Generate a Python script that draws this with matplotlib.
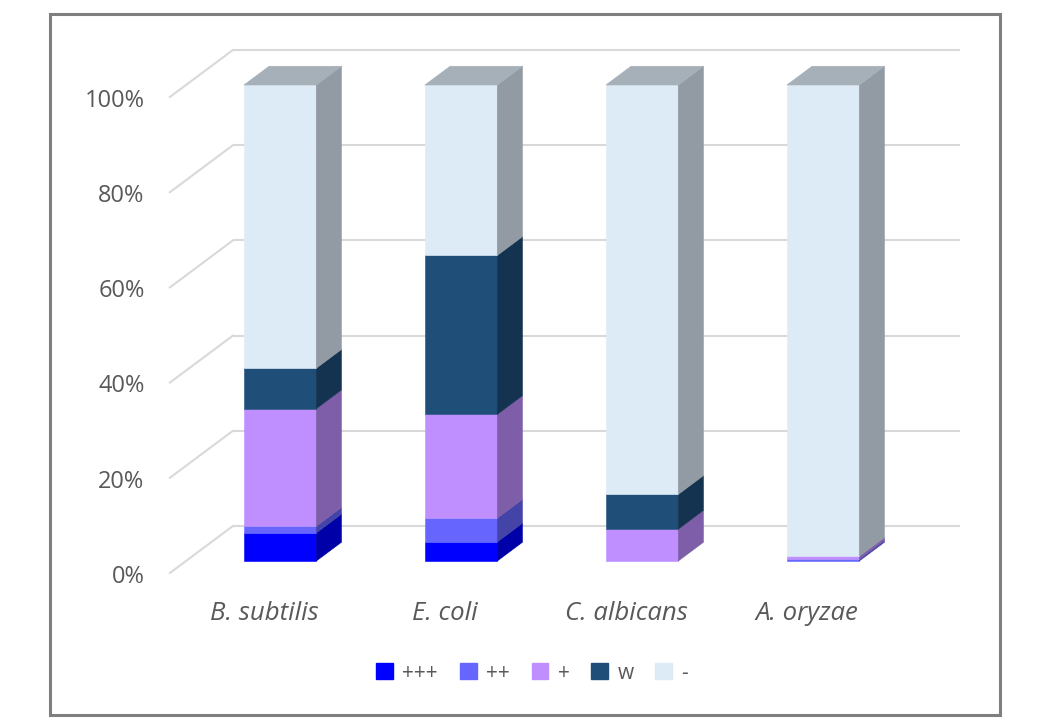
import numpy as np
import matplotlib.pyplot as plt
from matplotlib.patches import Polygon, Patch, Rectangle
from matplotlib.colors import to_rgb

plt.rcParams['font.family'] = ['Open Sans', 'DejaVu Sans']

# data (percent of isolates per activity level)
species = ['B. subtilis', 'E. coli', 'C. albicans', 'A. oryzae']
levels = ['+++', '++', '+', 'w', '-']
strong = [5.9, 4.0, 0.0, 0.0]          # +++
medium = [1.4, 5.0, 0.0, 0.4]          # ++
mild = [24.7, 21.8, 6.7, 0.6]          # +
weak = [8.5, 33.4, 7.3, 0.0]           # w
negative = [59.5, 35.8, 86.0, 99.0]    # -
yticks = [0, 20, 40, 60, 80, 100]

series = [strong, medium, mild, weak, negative]
colors = ['#0000FF', '#6666FF', '#BF8FFF', '#1F4E79', '#DDEBF7']
text_col = '#595959'
grid_col = '#D9D9D9'

# oblique "3D" projection: depth z in [0, 1] shifts right/up
DX, DY = 0.348, 9.87
z0, z1 = 0.255, 0.655
w = 0.4
x_left, x_right = -0.52, 3.5


def proj(x, y, z):
    return (x + z * DX, y + z * DY)


def shade(c, f):
    return tuple(v * f for v in to_rgb(c))


fig = plt.figure(figsize=(10.5, 7.24), dpi=100)
ax = fig.add_axes([0, 0, 1, 1])
ax.set_xlim(-1.4586, 4.3425)
ax.set_ylim(-31.72, 120.38)
ax.set_axis_off()

# walls: back gridlines + side diagonals
for t in yticks:
    xa, ya = proj(x_left, t, 1)
    xb, yb = proj(x_right, t, 1)
    ax.plot([xa, xb], [ya, yb], color=grid_col, lw=1.5, zorder=1,
            solid_capstyle='butt')
    xc, yc = proj(x_left, t, 0)
    ax.plot([xc, xa], [yc, ya], color=grid_col, lw=1.5, zorder=1)
    ax.text(x_left - 0.14, t - 0.8, f'{t}%', ha='right', va='center',
            fontsize=17, color=text_col)

# stacked 3D bars
for i in range(len(species)):
    bottom = 0.0
    for vals, c in zip(series, colors):
        h = vals[i]
        if h <= 0:
            continue
        fx, fy = proj(i, bottom, z0)
        ax.bar(fx, h, bottom=fy, width=w, color=c, ec=c, lw=0.4, zorder=3)
        side = [proj(i + w / 2, bottom, z0), proj(i + w / 2, bottom, z1),
                proj(i + w / 2, bottom + h, z1), proj(i + w / 2, bottom + h, z0)]
        sc = shade(c, 0.66)
        ax.add_patch(Polygon(side, closed=True, fc=sc, ec=sc, lw=0.4, zorder=3))
        bottom += h
    top_c = shade(colors[-1], 0.75)
    top = [proj(i - w / 2, bottom, z0), proj(i + w / 2, bottom, z0),
           proj(i + w / 2, bottom, z1), proj(i - w / 2, bottom, z1)]
    ax.add_patch(Polygon(top, closed=True, fc=top_c, ec=top_c, lw=0.4, zorder=3))
    ax.text(i, -8.6, species[i], ha='center', va='center', fontsize=18.5,
            style='italic', color=text_col)

handles = [Patch(fc=c, ec=c) for c in colors]
fig.legend(handles, levels, loc='center', bbox_to_anchor=(0.507, 0.0704),
           ncol=5, frameon=False, fontsize=15, labelcolor=text_col,
           handlelength=0.8, handleheight=0.8, handletextpad=0.45,
           columnspacing=1.05)

fig.patches.append(Rectangle((50 / 1050, 9 / 724), 950 / 1050, 701 / 724,
                             transform=fig.transFigure, fill=False,
                             ec='#7F7F7F', lw=2.2))

fig.savefig('out.png', dpi=100)
